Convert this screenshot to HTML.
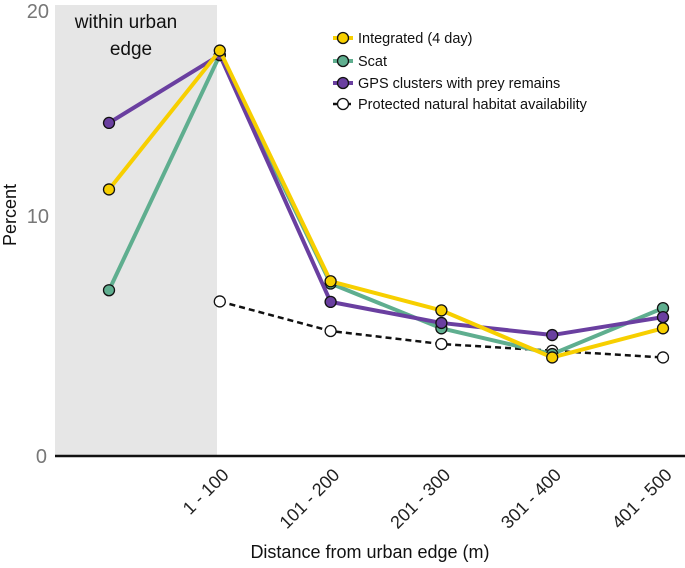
<!DOCTYPE html>
<html><head><meta charset="utf-8"><style>
body{margin:0;background:#fff;font-family:"Liberation Sans",sans-serif}
svg{display:block}
</style></head><body>
<svg id="chart" width="685" height="568">
<rect x="55" y="5" width="162" height="451" fill="#e6e6e6"/>
<text x="126" y="28" font-size="19" text-anchor="middle" fill="#111">within urban</text>
<text x="131" y="55" font-size="19" text-anchor="middle" fill="#111">edge</text>
<line x1="55" y1="456" x2="685" y2="456" stroke="#111" stroke-width="2.5"/>
<text x="49" y="18" font-size="20" text-anchor="end" fill="#777">20</text>
<text x="49" y="223" font-size="20" text-anchor="end" fill="#777">10</text>
<text x="47" y="463" font-size="20" text-anchor="end" fill="#777">0</text>
<text transform="translate(16,215) rotate(-90)" font-size="18" text-anchor="middle" fill="#111">Percent</text>
<text x="370" y="558" font-size="18" text-anchor="middle" fill="#111">Distance from urban edge (m)</text>
<g id="xlabels"></g>
<g id="lines"></g>
<g id="legend"></g>
</svg>
<script>
const categories=["within","1 - 100","101 - 200","201 - 300","301 - 400","401 - 500"];
const integrated=[11.9,18.1,7.8,6.5,4.4,5.7];
const scat=[7.4,17.9,7.7,5.7,4.55,6.6];
const gps=[14.87,17.9,6.88,5.94,5.4,6.2];
const habitat=[null,6.9,5.58,5.0,4.7,4.4];
const seriesNames=["Integrated (4 day)","Scat","GPS clusters with prey remains","Protected natural habitat availability"];
const NS="http://www.w3.org/2000/svg";
const xs=i=>109+i*110.8;
const ys=v=>456-v*22.4;
function mk(t,a,p){const e=document.createElementNS(NS,t);for(const k in a)e.setAttribute(k,a[k]);p.appendChild(e);return e;}
const xl=document.getElementById('xlabels');
for(let i=1;i<categories.length;i++){
  const t=mk('text',{transform:`translate(${xs(i)+10},${476}) rotate(-45)`,'font-size':18,'text-anchor':'end',fill:'#222'},xl);
  t.textContent=categories[i];
  
  
}
const L=document.getElementById('lines');
function draw(vals,color,fill,dash,name){
  const pts=[];vals.forEach((v,i)=>{if(v!=null)pts.push([xs(i),ys(v)]);});
  const pl=mk('polyline',{points:pts.map(p=>p.join(',')).join(' '),fill:'none',stroke:color,'stroke-width':dash?2.5:4,'stroke-dasharray':dash?'6,4':'none','stroke-linejoin':'round'},L);
  
  
  pts.forEach(p=>{const c=mk('circle',{cx:p[0],cy:p[1],r:5.5,fill:fill,stroke:'#111','stroke-width':1.3},L);
    
    });
}
draw(habitat,'#111','#fff',true,'habitat');
draw(scat,'#5fae8f','#5fae8f',false,'scat');
draw(gps,'#6a3fa0','#6a3fa0',false,'gps');
draw(integrated,'#f7cf00','#f7cf00',false,'integrated');
const lg=document.getElementById('legend');
const cols=[['#f7cf00','#f7cf00',false],['#5fae8f','#5fae8f',false],['#6a3fa0','#6a3fa0',false],['#111','#fff',true]];
const ly=[38,61,83,104];
seriesNames.forEach((n,i)=>{
  const g=mk('g',{},lg);
  
  
  mk('line',{x1:333,y1:ly[i],x2:353,y2:ly[i],stroke:cols[i][0],'stroke-width':cols[i][2]?2.5:4,'stroke-dasharray':cols[i][2]?'4,3':'none'},g);
  mk('circle',{cx:343,cy:ly[i],r:5.5,fill:cols[i][1],stroke:'#111','stroke-width':1.3},g);
  const t=mk('text',{x:358,y:ly[i]+5,'font-size':14.5,fill:'#111'},g);t.textContent=n;
});
</script>
</body></html>
